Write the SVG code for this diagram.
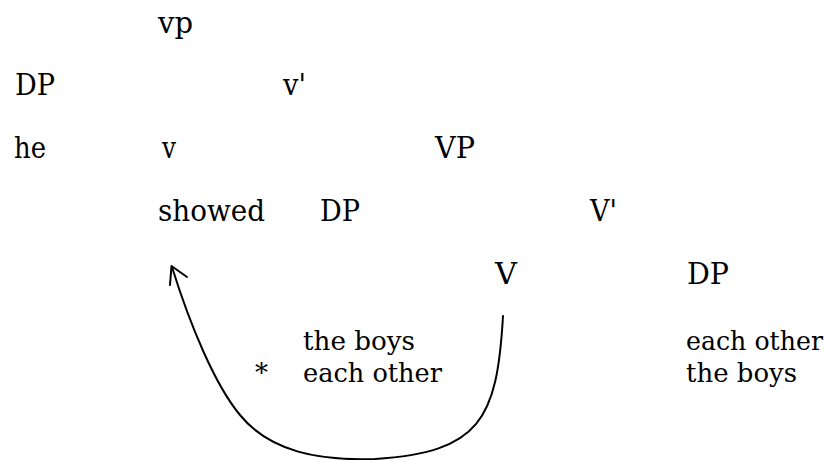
<svg xmlns="http://www.w3.org/2000/svg" width="833" height="460" viewBox="0 0 833 460">
<style>
text{font-family:"DejaVu Serif","Liberation Serif","Noto Serif",serif;font-size:29px;fill:#000}
.w{font-size:25.5px}
.c{fill:none;stroke:#000;stroke-width:2;stroke-linecap:round;stroke-linejoin:round}
</style>
<rect width="833" height="460" fill="#fff"/>
<g id="n-vp"><text x="158" y="33" textLength="35" lengthAdjust="spacingAndGlyphs">vp</text></g>
<g id="n-dp1"><text x="15" y="95" textLength="40" lengthAdjust="spacingAndGlyphs">DP</text></g>
<g id="n-vbar"><text x="283" y="95" textLength="23" lengthAdjust="spacingAndGlyphs">v'</text></g>
<g id="n-he"><text x="14" y="158" textLength="32" lengthAdjust="spacingAndGlyphs">he</text></g>
<g id="n-v"><text x="162" y="158" textLength="14" lengthAdjust="spacingAndGlyphs">v</text></g>
<g id="n-VP"><text x="435" y="158" textLength="40" lengthAdjust="spacingAndGlyphs">VP</text></g>
<g id="n-showed"><text x="158" y="221" textLength="107" lengthAdjust="spacingAndGlyphs">showed</text></g>
<g id="n-dp2"><text x="320" y="221" textLength="40" lengthAdjust="spacingAndGlyphs">DP</text></g>
<g id="n-Vbar"><text x="590" y="221" textLength="27" lengthAdjust="spacingAndGlyphs">V'</text></g>
<g id="n-V"><text x="495" y="284" textLength="22" lengthAdjust="spacingAndGlyphs">V</text></g>
<g id="n-dp3"><text x="687" y="284" textLength="42" lengthAdjust="spacingAndGlyphs">DP</text></g>
<g id="n-left-words">
<text class="w" x="303" y="350" textLength="112" lengthAdjust="spacingAndGlyphs">the boys</text>
<text class="w" x="303" y="382" textLength="139" lengthAdjust="spacingAndGlyphs">each other</text>
<text x="255" y="382" style="font-size:26px">*</text>
</g>
<g id="n-right-words">
<text class="w" x="686" y="350" textLength="137" lengthAdjust="spacingAndGlyphs">each other</text>
<text class="w" x="686" y="382" textLength="111" lengthAdjust="spacingAndGlyphs">the boys</text>
</g>
<g id="connectors">
<path class="c" d="M503,316 C497,420 480,452 375,459 C320,461 270,452 240,415 C215,385 190,325 172,267"/>
<path class="c" d="M170,285 L171.5,266 L187,277"/>
</g>
</svg>
